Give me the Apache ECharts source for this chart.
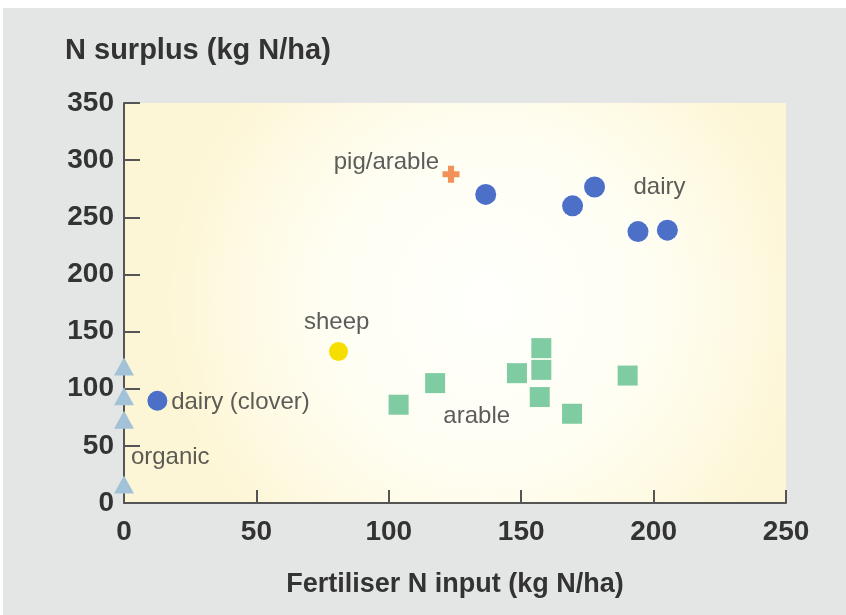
<!DOCTYPE html>
<html>
<head>
<meta charset="utf-8">
<script src="https://cdn.jsdelivr.net/npm/echarts@6/dist/echarts.min.js"></script>
<style>
html,body{margin:0;padding:0;background:#ffffff;}
#bg{position:absolute;left:3px;top:8px;width:843px;height:607px;background:#e4e6e6;}
#c{position:absolute;left:0;top:0;width:846px;height:615px;}
</style>
</head>
<body>
<div id="bg"></div>
<div id="c"></div>
<script>
// Data (x = Fertiliser N input, y = N surplus, kg N/ha)
var dairyX = [136.6, 169.4, 177.7, 194.1, 205.2];
var dairyY = [270, 260, 276.5, 237.5, 238.7];
var cloverX = [12.6];
var cloverY = [89.5];
var sheepX = [81];
var sheepY = [132.5];
var pigX = [123.5];
var pigY = [287.6];
var arableX = [103.7, 117.5, 148.4, 157.6, 157.6, 157, 169.2, 190.2];
var arableY = [86, 104.9, 113.6, 135.5, 116.5, 92.7, 78.1, 111.5];
var organicX = [0, 0, 0, 0];
var organicY = [119.4, 93.5, 72.9, 16.1];
var xTicks = [0, 50, 100, 150, 200, 250];
var yTicks = [0, 50, 100, 150, 200, 250, 300, 350];
// Annotation labels: text and anchor in data coordinates
var labelText = ['pig/arable', 'dairy', 'sheep', 'dairy (clover)', 'organic', 'arable'];
var labelX = [119.0, 192.4, 80.3, 17.8, 2.6, 120.6];
var labelY = [298.1, 276.2, 158.4, 87.7, 39.7, 75.9];
var labelAlign = ['right', 'left', 'center', 'left', 'left', 'left'];

function zip(xs, ys) { return xs.map(function (x, i) { return [x, ys[i]]; }); }

var chart = echarts.init(document.getElementById('c'), null, {renderer: 'canvas'});
var textColor = '#333333';
var axisColor = '#555555';
var font = 'Liberation Sans, Arial, sans-serif';

var option = {
  backgroundColor: 'transparent',
  animation: false,
  title: {
    text: 'N surplus (kg N/ha)',
    left: 60, top: 31,
    textStyle: {fontFamily: font, fontSize: 29, fontWeight: 'bold', color: textColor}
  },
  grid: {
    left: 124, top: 103, right: 60, bottom: 112,
    show: true, borderWidth: 0,
    backgroundColor: {
      type: 'radial', x: 0.55, y: 0.5, r: 0.8,
      colorStops: [{offset: 0, color: '#fffffc'}, {offset: 0.5, color: '#fffef3'}, {offset: 1, color: '#fdf6d6'}]
    }
  },
  xAxis: {
    type: 'value', min: 0, max: 250, interval: 50,
    name: 'Fertiliser N input (kg N/ha)', nameLocation: 'middle', nameGap: 68,
    nameTextStyle: {fontFamily: font, fontSize: 27, fontWeight: 'bold', color: textColor},
    axisLine: {show: true, lineStyle: {color: axisColor, width: 2}},
    axisTick: {show: true, inside: true, length: 13, lineStyle: {color: axisColor, width: 2}},
    axisLabel: {fontFamily: font, fontSize: 28, fontWeight: 'bold', color: textColor, margin: 15,
      formatter: function (v) { return xTicks.indexOf(v) >= 0 ? String(v) : ''; }},
    splitLine: {show: false}
  },
  yAxis: {
    type: 'value', min: 0, max: 350, interval: 50,
    axisLine: {show: true, lineStyle: {color: axisColor, width: 2}},
    axisTick: {show: true, inside: true, length: 16, lineStyle: {color: axisColor, width: 2}},
    axisLabel: {fontFamily: font, fontSize: 28, fontWeight: 'bold', color: textColor, margin: 10,
      formatter: function (v) { return yTicks.indexOf(v) >= 0 ? String(v) : ''; }},
    splitLine: {show: false}
  },
  series: [
    {type: 'scatter', name: 'arable', data: zip(arableX, arableY), symbol: 'rect', symbolSize: 20,
      itemStyle: {color: '#7fcba2', opacity: 1}},
    {type: 'scatter', name: 'organic', data: zip(organicX, organicY), symbol: 'triangle', symbolSize: [20, 18],
      itemStyle: {color: '#a2c2d8', opacity: 1}},
    {type: 'scatter', name: 'dairy', data: zip(dairyX, dairyY), symbol: 'circle', symbolSize: 21,
      itemStyle: {color: '#4c70c8', opacity: 1, shadowColor: 'rgba(255,255,255,0.95)', shadowBlur: 6}},
    {type: 'scatter', name: 'dairy (clover)', data: zip(cloverX, cloverY), symbol: 'circle', symbolSize: 20,
      itemStyle: {color: '#4c70c8', opacity: 1}},
    {type: 'scatter', name: 'sheep', data: zip(sheepX, sheepY), symbol: 'circle', symbolSize: 19,
      itemStyle: {color: '#f6df00', opacity: 1}},
    {type: 'scatter', name: 'pig/arable', data: zip(pigX, pigY),
      symbol: 'path://M3.2,0H6.8V3.2H10V6.8H6.8V10H3.2V6.8H0V3.2H3.2Z', symbolSize: 17,
      itemStyle: {color: '#f39258', opacity: 1}},
    {type: 'scatter', name: 'labels', silent: true, symbolSize: 0,
      data: labelText.map(function (t, i) {
        return {value: [labelX[i], labelY[i]], label: {show: true, position: 'inside', formatter: t, align: labelAlign[i], verticalAlign: 'middle',
          fontFamily: font, fontSize: 24, color: textColor}};
      })}
  ]
};
chart.setOption(option);
</script>
</body>
</html>
